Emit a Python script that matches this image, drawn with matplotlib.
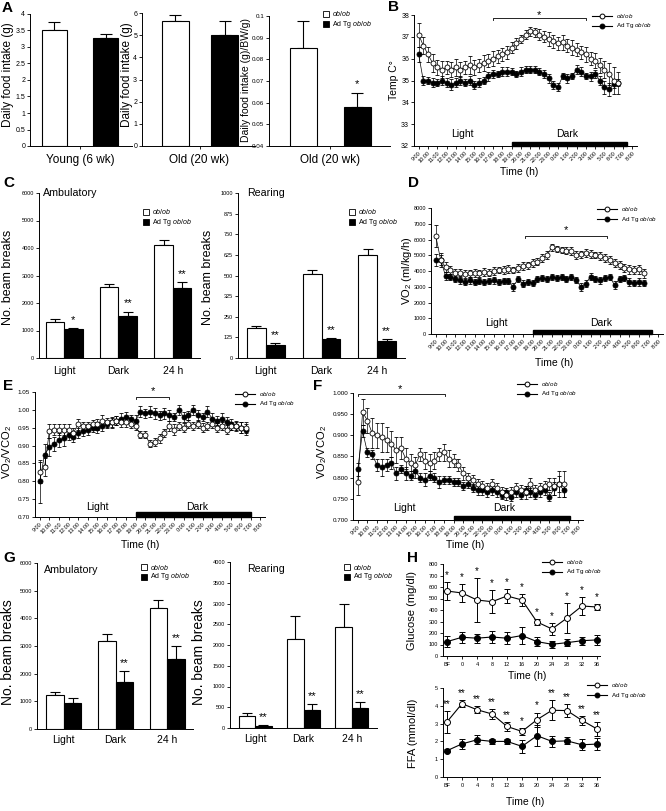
import numpy as np
import matplotlib
matplotlib.use('Agg')
import matplotlib.pyplot as plt
from matplotlib.lines import Line2D
from matplotlib.patches import Rectangle

plt.rcParams['font.family'] = ['Liberation Sans', 'DejaVu Sans']
plt.rcParams['mathtext.fontset'] = 'custom'
plt.rcParams['mathtext.rm'] = 'Liberation Sans'
plt.rcParams['mathtext.it'] = 'Liberation Sans:italic'
plt.rcParams['axes.linewidth'] = 0.7
plt.rcParams['xtick.major.width'] = 0.6
plt.rcParams['ytick.major.width'] = 0.6
plt.rcParams['xtick.major.size'] = 2
plt.rcParams['ytick.major.size'] = 2

# ---------------- data ----------------
series_names = [r'$\mathit{ob/ob}$', r'Ad Tg $\mathit{ob/ob}$']

# A: daily food intake (ob/ob, Ad Tg ob/ob)
food_young = [3.50, 3.27]
food_young_err = [0.25, 0.12]
food_old = [5.63, 5.03]
food_old_err = [0.30, 0.62]
food_old_bw = [0.0853, 0.0581]
food_old_bw_err = [0.0123, 0.0063]

# C / G: beam breaks
groups = ['Light', 'Dark', '24 h']
c_amb_ob = [1320, 2590, 4100]
c_amb_ob_err = [90, 110, 200]
c_amb_tg = [1057, 1520, 2545]
c_amb_tg_err = [30, 170, 230]
c_amb_sig = ['*', '**', '**']
c_rear_ob = [181, 508, 625]
c_rear_ob_err = [12, 26, 35]
c_rear_tg = [81, 117, 103]
c_rear_tg_err = [10, 6, 14]
c_rear_sig = ['**', '**', '**']

g_amb_ob = [1230, 3180, 4390]
g_amb_ob_err = [95, 260, 270]
g_amb_tg = [940, 1690, 2545]
g_amb_tg_err = [170, 390, 455]
g_amb_sig = ['', '**', '**']
g_rear_ob = [290, 2145, 2440]
g_rear_ob_err = [65, 545, 560]
g_rear_tg = [40, 430, 470]
g_rear_tg_err = [25, 150, 150]
g_rear_sig = ['**', '**', '**']

# B, D, E, F: time courses, hours after 9:00
hours = np.arange(0, 22, 0.5)
time_labels = [f'{(9 + i) % 24}:00' for i in range(24)]

temp_ob = [37.1, 36.6, 36.2, 35.8, 35.6, 35.5, 35.6, 35.5, 35.6, 35.5,
           35.6, 35.7, 35.6, 35.7, 35.8, 35.9, 36.0, 36.1, 36.2, 36.3,
           36.5, 36.7, 36.9, 37.1, 37.25, 37.2, 37.1, 37.0, 36.9, 36.8,
           36.7, 36.75, 36.6, 36.5, 36.4, 36.3, 36.2, 36.0, 35.9, 35.7,
           35.5, 35.3, 35.0, 34.9]
temp_ob_err = [0.55, 0.4, 0.35, 0.4, 0.35, 0.4, 0.3, 0.35, 0.4, 0.35,
               0.3, 0.4, 0.35, 0.3, 0.35, 0.3, 0.35, 0.3, 0.3, 0.3,
               0.25, 0.25, 0.2, 0.2, 0.2, 0.2, 0.25, 0.25, 0.3, 0.3,
               0.3, 0.35, 0.3, 0.35, 0.3, 0.3, 0.35, 0.3, 0.35, 0.35,
               0.4, 0.5, 0.6, 0.5]
temp_tg = [36.2, 35.0, 35.0, 34.9, 34.9, 35.0, 34.9, 34.8, 34.9, 35.0,
           34.9, 35.0, 34.8, 34.9, 35.0, 35.2, 35.3, 35.3, 35.4, 35.4,
           35.4, 35.3, 35.4, 35.5, 35.5, 35.5, 35.4, 35.3, 35.1, 34.8,
           34.7, 35.2, 35.1, 35.2, 35.5, 35.4, 35.2, 35.2, 35.3, 35.0,
           34.7, 34.6, 34.85, 34.9]
temp_tg_err = [0.35, 0.2, 0.15, 0.2, 0.15, 0.2, 0.2, 0.25, 0.2, 0.2,
               0.15, 0.2, 0.2, 0.2, 0.15, 0.2, 0.2, 0.15, 0.2, 0.2,
               0.15, 0.15, 0.2, 0.15, 0.15, 0.15, 0.15, 0.2, 0.2, 0.2,
               0.2, 0.15, 0.2, 0.15, 0.2, 0.2, 0.15, 0.2, 0.2, 0.2,
               0.3, 0.3, 0.2, 0.15]

vo2_ob = [6200, 4700, 4250, 4050, 3850, 3900, 3800, 3850, 3900, 3850,
          3950, 3900, 4000, 4050, 4050, 4100, 4050, 4200, 4300, 4350,
          4500, 4600, 4800, 5000, 5500, 5400, 5350, 5300, 5250, 5000,
          5050, 5150, 5100, 5000, 4950, 4800, 4700, 4500, 4400, 4200,
          4100, 4050, 4100, 3850]
vo2_ob_err = [700, 450, 300, 250, 250, 200, 250, 200, 250, 200,
              250, 200, 250, 200, 250, 250, 200, 250, 250, 200,
              250, 250, 250, 250, 200, 200, 200, 250, 250, 250,
              200, 250, 250, 200, 250, 250, 250, 250, 250, 250,
              300, 250, 300, 300]
vo2_tg = [4700, 4700, 3700, 3600, 3500, 3400, 3300, 3400, 3300, 3350,
          3300, 3350, 3400, 3300, 3350, 3350, 3000, 3500, 3200, 3300,
          3250, 3500, 3550, 3500, 3600, 3550, 3600, 3500, 3600, 3450,
          3000, 3200, 3650, 3500, 3400, 3550, 3600, 3100, 3500, 3550,
          3300, 3250, 3300, 3250]
vo2_tg_err = [400, 300, 250, 200, 200, 200, 200, 250, 200, 200,
              200, 200, 200, 200, 200, 200, 250, 200, 200, 200,
              200, 200, 200, 200, 200, 200, 200, 200, 200, 200,
              250, 200, 200, 200, 200, 200, 200, 250, 200, 200,
              250, 200, 250, 200]

rq_e_ob = [0.825, 0.84, 0.94, 0.945, 0.945, 0.945, 0.945, 0.935, 0.96, 0.955,
           0.955, 0.96, 0.96, 0.97, 0.965, 0.965, 0.97, 0.965, 0.965, 0.96,
           0.955, 0.93, 0.93, 0.905, 0.91, 0.92, 0.935, 0.955, 0.945, 0.955,
           0.95, 0.96, 0.955, 0.96, 0.95, 0.955, 0.96, 0.95, 0.955, 0.945,
           0.955, 0.955, 0.95, 0.95]
rq_e_ob_err = [0.03, 0.025, 0.02, 0.015, 0.015, 0.015, 0.015, 0.015, 0.015, 0.012,
               0.012, 0.012, 0.015, 0.015, 0.012, 0.012, 0.012, 0.012, 0.012, 0.012,
               0.012, 0.01, 0.01, 0.01, 0.01, 0.012, 0.012, 0.015, 0.015, 0.012,
               0.012, 0.012, 0.012, 0.012, 0.012, 0.012, 0.012, 0.012, 0.012, 0.012,
               0.012, 0.012, 0.015, 0.015]
rq_e_tg = [0.80, 0.875, 0.895, 0.905, 0.915, 0.92, 0.93, 0.925, 0.935, 0.94,
           0.945, 0.95, 0.95, 0.955, 0.96, 0.965, 0.97, 0.975, 0.98, 0.975,
           0.97, 0.995, 0.99, 0.995, 0.99, 0.985, 0.99, 0.985, 0.98, 1.0,
           0.98, 0.985, 1.0, 0.985, 0.98, 0.995, 0.975, 0.97, 0.975, 0.965,
           0.96, 0.955, 0.95, 0.945]
rq_e_tg_err = [0.06, 0.03, 0.025, 0.02, 0.02, 0.02, 0.015, 0.015, 0.015, 0.012,
               0.015, 0.012, 0.015, 0.015, 0.012, 0.015, 0.012, 0.015, 0.015, 0.012,
               0.015, 0.015, 0.012, 0.015, 0.015, 0.012, 0.015, 0.015, 0.012, 0.015,
               0.015, 0.012, 0.015, 0.015, 0.012, 0.015, 0.015, 0.012, 0.015, 0.015,
               0.015, 0.015, 0.015, 0.015]

rq_f_ob = [0.79, 0.955, 0.935, 0.905, 0.90, 0.895, 0.89, 0.88, 0.865, 0.87,
           0.845, 0.835, 0.83, 0.855, 0.84, 0.835, 0.84, 0.855, 0.86, 0.845,
           0.84, 0.83, 0.81, 0.80, 0.795, 0.785, 0.78, 0.775, 0.785, 0.775,
           0.765, 0.76, 0.765, 0.775, 0.77, 0.765, 0.785, 0.77, 0.775, 0.78,
           0.785, 0.78, 0.785, 0.785]
rq_f_ob_err = [0.03, 0.03, 0.03, 0.035, 0.03, 0.035, 0.03, 0.03, 0.03, 0.025,
               0.025, 0.02, 0.02, 0.015, 0.02, 0.02, 0.02, 0.015, 0.02, 0.02,
               0.015, 0.015, 0.015, 0.012, 0.012, 0.012, 0.012, 0.012, 0.012, 0.012,
               0.012, 0.012, 0.012, 0.012, 0.012, 0.015, 0.015, 0.012, 0.012, 0.012,
               0.015, 0.02, 0.03, 0.03]
rq_f_tg = [0.82, 0.91, 0.86, 0.855, 0.83, 0.825, 0.83, 0.835, 0.81, 0.82,
           0.81, 0.805, 0.815, 0.80, 0.795, 0.805, 0.80, 0.79, 0.795, 0.795,
           0.79, 0.79, 0.78, 0.785, 0.775, 0.77, 0.77, 0.765, 0.77, 0.765,
           0.76, 0.765, 0.755, 0.765, 0.76, 0.77, 0.765, 0.76, 0.765, 0.77,
           0.755, 0.775, 0.785, 0.77]
rq_f_tg_err = [0.015, 0.015, 0.01, 0.01, 0.015, 0.02, 0.015, 0.015, 0.015, 0.01,
               0.015, 0.01, 0.015, 0.01, 0.015, 0.01, 0.01, 0.015, 0.01, 0.01,
               0.01, 0.01, 0.01, 0.01, 0.01, 0.01, 0.01, 0.01, 0.01, 0.01,
               0.01, 0.01, 0.01, 0.01, 0.01, 0.01, 0.01, 0.01, 0.01, 0.01,
               0.01, 0.015, 0.02, 0.015]

# H: glucose and FFA after fasting
h_times = [-4, 0, 4, 8, 12, 16, 20, 24, 28, 32, 36]
h_labels = ['BF', '0', '4', '8', '12', '16', '20', '24', '28', '32', '36']
glu_ob = [565, 548, 487, 472, 522, 487, 296, 235, 330, 435, 426]
glu_ob_err = [75, 80, 190, 100, 60, 50, 25, 55, 130, 75, 25]
glu_tg = [125, 163, 155, 165, 155, 178, 125, 102, 116, 133, 140]
glu_tg_err = [50, 50, 40, 50, 50, 70, 40, 30, 30, 35, 45]
glu_sig = ['*'] * 11
ffa_ob = [3.1, 4.12, 3.78, 3.54, 2.84, 2.56, 3.22, 3.75, 3.73, 3.18, 2.7]
ffa_ob_err = [0.6, 0.2, 0.2, 0.3, 0.25, 0.2, 0.4, 0.55, 0.35, 0.25, 0.4]
ffa_tg = [1.48, 1.86, 2.09, 2.0, 2.0, 1.72, 2.32, 2.0, 2.03, 1.81, 1.85]
ffa_tg_err = [0.1, 0.3, 0.25, 0.12, 0.15, 0.35, 0.6, 0.3, 0.2, 0.3, 0.35]
ffa_sig = ['**', '**', '**', '**', '**', '*', '*', '**', '**', '**', '**']

# ---------------- figure ----------------
W, H = 666, 811
fig = plt.figure(figsize=(W / 100, H / 100), dpi=100)


def px_axes(x0, y0, x1, y1):
    ax = fig.add_axes([x0 / W, 1 - y1 / H, (x1 - x0) / W, (y1 - y0) / H])
    ax.spines['top'].set_visible(False)
    ax.spines['right'].set_visible(False)
    ax._px = (y1 - y0)
    return ax


def ftext(x, y, s, **kw):
    fig.text(x / W, 1 - y / H, s, **kw)


def dpx(ax, px):
    lo, hi = ax.get_ylim()
    return px * (hi - lo) / ax._px


def set_y(ax, ticks, labels, size):
    ax.set_ylim(ticks[0], ticks[-1])
    ax.set_yticks(ticks)
    ax.set_yticklabels(labels)
    ax.tick_params(axis='y', labelsize=size, pad=1.5)


def bar_legend(x, y, size=5):
    for i, (lab, fc) in enumerate(zip(series_names, ['white', 'black'])):
        yy = y + i * 10
        fig.add_artist(Rectangle(((x - 3) / W, 1 - (yy + 3) / H), 6 / W, 6 / H,
                                 transform=fig.transFigure, facecolor=fc,
                                 edgecolor='black', lw=0.6))
        ftext(x + 6, yy, lab, fontsize=size, va='center')


def line_legend(x, y, size=4.5):
    for i, (lab, fc) in enumerate(zip(series_names, ['white', 'black'])):
        ypx = y + i * 10
        yy = 1 - ypx / H
        fig.add_artist(Line2D([x / W, (x + 20) / W], [yy, yy], transform=fig.transFigure,
                              color='black', lw=0.8))
        fig.add_artist(Line2D([(x + 10) / W], [yy], transform=fig.transFigure, marker='o',
                              ms=3.5, mfc=fc, mec='black', mew=0.7))
        ftext(x + 24, ypx, lab, fontsize=size, va='center')


# ---- A ----
def pair_panel(rect, vals, errs, xlim, w, ticks, labels, tsize=5):
    ax = px_axes(*rect)
    ax.bar([0, 1], vals, w, color=['white', 'black'], edgecolor='black', lw=0.8, zorder=2)
    ax.errorbar([0, 1], vals, yerr=[[0, 0], errs], fmt='none', ecolor='black',
                elinewidth=0.8, capsize=4.5, capthick=0.8, zorder=1)
    ax.set_xlim(*xlim)
    ax.set_xticks([0.5])
    ax.set_xticklabels([''])
    set_y(ax, ticks, labels, tsize)
    return ax


pair_panel((30, 14, 132, 146), food_young, food_young_err, (-0.475, 1.505), 0.485,
           np.arange(0, 4.01, 0.5), ['0', '0.5', '1', '1.5', '2', '2.5', '3', '3.5', '4'])
pair_panel((142, 13, 255, 146), food_old, food_old_err, (-0.68, 1.62), 0.55,
           np.arange(0, 7), [str(v) for v in range(7)])
a3 = pair_panel((269, 16, 390, 146), food_old_bw, food_old_bw_err, (-0.64, 1.61), 0.5,
                np.arange(0.04, 0.1001, 0.01),
                ['0.04', '0.05', '0.06', '0.07', '0.08', '0.09', '0.1'], tsize=4.5)
a3.text(1, food_old_bw[1] + food_old_bw_err[1] + dpx(a3, 9), '*', ha='center', va='center', fontsize=8)
bar_legend(326, 14)
ftext(8, 75, 'Daily food intake (g)', rotation=90, ha='center', va='center', fontsize=8.5)
ftext(127, 75, 'Daily food intake (g)', rotation=90, ha='center', va='center', fontsize=8.5)
ftext(246, 80, 'Daily food intake (g)/BW/g)', rotation=90, ha='center', va='center', fontsize=7.5)
ftext(80, 160, 'Young (6 wk)', ha='center', va='center', fontsize=8.5)
ftext(199, 160, 'Old (20 wk)', ha='center', va='center', fontsize=8.5)
ftext(330, 160, 'Old (20 wk)', ha='center', va='center', fontsize=8.5)


# ---- C, G ----
def group_panel(rect, ob, ob_e, tg, tg_e, sig, xlim, ticks, labels, title, title_xy, pad):
    ax = px_axes(*rect)
    x = np.arange(3)
    w = 0.34
    ax.bar(x - w / 2, ob, w, color='white', edgecolor='black', lw=0.8, zorder=2)
    ax.bar(x + w / 2, tg, w, color='black', edgecolor='black', lw=0.8, zorder=2)
    ax.errorbar(x - w / 2, ob, yerr=[np.zeros(3), ob_e], fmt='none', ecolor='black',
                elinewidth=0.8, capsize=3.5, capthick=0.8, zorder=1)
    ax.errorbar(x + w / 2, tg, yerr=[np.zeros(3), tg_e], fmt='none', ecolor='black',
                elinewidth=0.8, capsize=3.5, capthick=0.8, zorder=1)
    ax.set_xlim(*xlim)
    ax.set_xticks(x)
    ax.set_xticklabels(groups, fontsize=7.5)
    ax.tick_params(axis='x', length=0, pad=pad)
    set_y(ax, ticks, labels, 4)
    for i, s in enumerate(sig):
        if s:
            ax.text(x[i] + w / 2, tg[i] + tg_e[i] + dpx(ax, 8), s, ha='center', va='center',
                    fontsize=8)
    ax.text(title_xy[0], title_xy[1], title, transform=ax.transAxes, ha='left', va='center',
            fontsize=7.7)
    return ax


t6000 = np.arange(0, 6001, 1000)
group_panel((39, 193, 200, 358), c_amb_ob, c_amb_ob_err, c_amb_tg, c_amb_tg_err, c_amb_sig,
            (-0.46, 2.5), t6000, [str(v) for v in t6000], 'Ambulatory', (0.025, 1.0), 6)
group_panel((238, 193, 405, 358), c_rear_ob, c_rear_ob_err, c_rear_tg, c_rear_tg_err, c_rear_sig,
            (-0.5, 2.5), np.arange(0, 1001, 125),
            ['0', '125', '250', '325', '500', '625', '750', '875', '1000'], 'Rearing',
            (0.055, 1.0), 6)
bar_legend(146, 212)
bar_legend(352, 212)
ftext(8, 277, 'No. beam breaks', rotation=90, ha='center', va='center', fontsize=9)
ftext(208, 277, 'No. beam breaks', rotation=90, ha='center', va='center', fontsize=9)

group_panel((37, 563, 193, 729), g_amb_ob, g_amb_ob_err, g_amb_tg, g_amb_tg_err, g_amb_sig,
            (-0.52, 2.5), t6000, [str(v) for v in t6000], 'Ambulatory', (0.045, 0.955), 4)
t4000 = np.arange(0, 4001, 500)
group_panel((230, 562, 377, 728), g_rear_ob, g_rear_ob_err, g_rear_tg, g_rear_tg_err, g_rear_sig,
            (-0.52, 2.52), t4000, [str(v) for v in t4000], 'Rearing', (0.115, 0.955), 4)
bar_legend(144, 567)
bar_legend(347, 567)
ftext(8, 652, 'No. beam breaks', rotation=90, ha='center', va='center', fontsize=10)
ftext(199, 652, 'No. beam breaks', rotation=90, ha='center', va='center', fontsize=10)


# ---- B, D, E, F ----
def time_panel(rect, ob, ob_e, tg, tg_e, ticks, labels, tsize, dark_end, light_x, dark_x,
               text_px, bar_px, bracket, star):
    ax = px_axes(*rect)
    kw = dict(fmt='-o', color='black', ms=3.6, mec='black', mew=0.6, lw=0.5,
              elinewidth=0.5, capsize=1.5, capthick=0.5)
    ax.errorbar(hours, tg, yerr=tg_e, mfc='black', zorder=3, **kw)
    ax.errorbar(hours, ob, yerr=ob_e, mfc='white', zorder=4, **kw)
    ax.set_xlim(-0.5, 23.5)
    set_y(ax, ticks, labels, tsize)
    ax.set_xticks(range(24))
    ax.set_xticklabels(time_labels, rotation=45, ha='right', rotation_mode='anchor', fontsize=4)
    ax.tick_params(axis='x', pad=1, length=2)
    y0 = ticks[0]
    ax.add_patch(Rectangle((10, y0), dark_end - 10, dpx(ax, bar_px), color='black',
                           clip_on=False, zorder=5))
    ty = y0 + dpx(ax, text_px)
    ax.text(light_x, ty, 'Light', ha='center', va='center', fontsize=7.5)
    ax.text(dark_x, ty, 'Dark', ha='center', va='center', fontsize=7.5)
    bx0, bx1, by = bracket
    d = dpx(ax, 2)
    ax.plot([bx0, bx0, bx1, bx1], [by - d, by, by, by - d], color='black', lw=0.6, clip_on=False)
    ax.text(star[0], star[1], '*', ha='center', va='center', fontsize=8)
    return ax


time_panel((414, 15, 637, 146), temp_ob, temp_ob_err, temp_tg, temp_tg_err,
           np.arange(32, 39), [str(v) for v in range(32, 39)], 5, 22.4, 4.7, 16, 12, 4,
           (8.0, 18.0, 37.86), (12.9, 38.0))
line_legend(592, 16)
ftext(394, 80, 'Temp C°', rotation=90, ha='center', va='center', fontsize=7.5)
ftext(519, 172, 'Time (h)', ha='center', va='center', fontsize=7.5)

t8000 = np.arange(0, 8001, 1000)
time_panel((431, 208, 663, 334), vo2_ob, vo2_ob_err, vo2_tg, vo2_tg_err,
           t8000, [str(v) for v in t8000], 4, 22.4, 6.3, 17.1, 11, 4,
           (9.2, 17.7, 6200), (13.5, 6600))
line_legend(597, 209)
ftext(407, 271, r'VO$_2$ (ml/kg/h)', rotation=90, ha='center', va='center', fontsize=8)
ftext(554, 363, 'Time (h)', ha='center', va='center', fontsize=7.5)

te = np.arange(0.70, 1.0501, 0.05)
time_panel((35, 392, 265, 517), rq_e_ob, rq_e_ob_err, rq_e_tg, rq_e_tg_err,
           te, [f'{v:.2f}' for v in te], 4.5, 22.0, 6.0, 16.4, 10, 5,
           (10.0, 13.5, 1.036), (11.8, 1.053))
line_legend(235, 394)
ftext(7, 452, r'VO$_2$/VCO$_2$', rotation=90, ha='center', va='center', fontsize=8)
ftext(140, 545, 'Time (h)', ha='center', va='center', fontsize=7.5)

tf = np.arange(0.70, 1.0001, 0.05)
time_panel((353, 393, 583, 520), rq_f_ob, rq_f_ob_err, rq_f_tg, rq_f_tg_err,
           tf, [f'{v:.3f}' for v in tf], 4.5, 22.1, 4.9, 15.3, 12, 4,
           (0.0, 9.1, 0.997), (4.4, 1.01))
line_legend(517, 384)
ftext(322, 452, r'VO$_2$/VCO$_2$', rotation=90, ha='center', va='center', fontsize=8)
ftext(465, 545, 'Time (h)', ha='center', va='center', fontsize=7.5)


# ---- H ----
def fast_panel(rect, ob, ob_e, tg, tg_e, sig, ticks, labels):
    ax = px_axes(*rect)
    kw = dict(fmt='-o', color='black', ms=4.3, mec='black', mew=0.7, lw=0.8,
              elinewidth=0.7, capsize=2.5, capthick=0.7)
    ax.errorbar(h_times, tg, yerr=tg_e, mfc='black', zorder=3, **kw)
    ax.errorbar(h_times, ob, yerr=ob_e, mfc='white', zorder=4, **kw)
    ax.set_xlim(-5.07, 36.8)
    ax.set_xticks(h_times)
    ax.set_xticklabels(h_labels, fontsize=4)
    ax.tick_params(axis='x', pad=2)
    set_y(ax, ticks, labels, 4)
    for t, v, e, s in zip(h_times, ob, ob_e, sig):
        ax.text(t, v + e + dpx(ax, 7), s, ha='center', va='center', fontsize=7)
    return ax


tg800 = np.arange(0, 801, 100)
fast_panel((443, 564, 600, 656), glu_ob, glu_ob_err, glu_tg, glu_tg_err, glu_sig,
           tg800, [str(v) for v in tg800])
line_legend(542, 562)
ftext(412, 610, 'Glucose (mg/dl)', rotation=90, ha='center', va='center', fontsize=8)
ftext(527, 676, 'Time (h)', ha='center', va='center', fontsize=7.5)

fast_panel((443, 688, 600, 777), ffa_ob, ffa_ob_err, ffa_tg, ffa_tg_err, ffa_sig,
           np.arange(0, 6), [str(v) for v in range(6)])
line_legend(587, 685)
ftext(413, 733, 'FFA (mmol/dl)', rotation=90, ha='center', va='center', fontsize=8)
ftext(525, 802, 'Time (h)', ha='center', va='center', fontsize=7.5)

# panel letters
for lab, x, y in [('A', 2, 8), ('B', 388, 7), ('C', 3, 183), ('D', 408, 183),
                  ('E', 3, 386), ('F', 313, 386), ('G', 3, 558), ('H', 407, 558)]:
    ftext(x, y, lab, fontsize=11, fontweight='bold', ha='left', va='center')

fig.savefig('out.png', dpi=100)
